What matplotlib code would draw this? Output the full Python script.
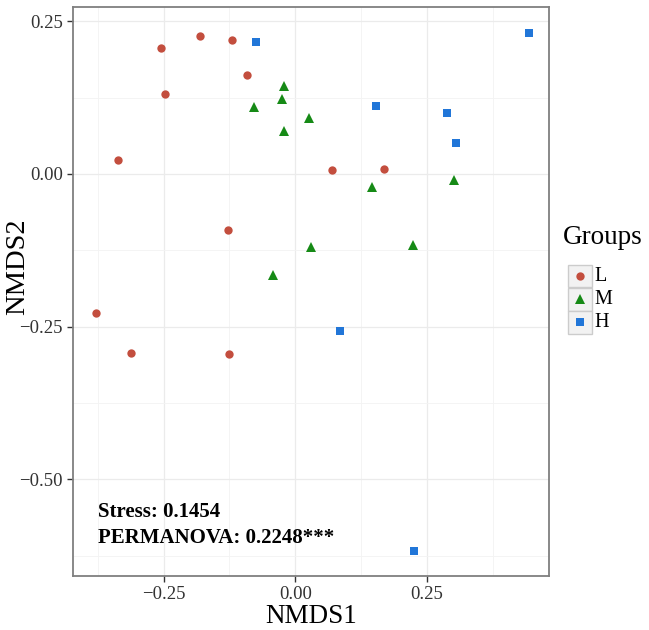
import matplotlib
matplotlib.use("Agg")
import matplotlib.pyplot as plt
from matplotlib.patches import Rectangle
from matplotlib.lines import Line2D
import numpy as np

plt.rcParams['font.family'] = ['Liberation Serif', 'DejaVu Serif']

groups = ["L", "M", "H"]
L_x = [-0.254, -0.181, -0.120, -0.092, -0.248, -0.336, -0.127, 0.070, 0.169, -0.379, -0.312, -0.125]
L_y = [0.207, 0.226, 0.220, 0.162, 0.131, 0.023, -0.091, 0.006, 0.008, -0.228, -0.293, -0.295]
M_x = [-0.022, -0.025, -0.078, -0.022, -0.042, 0.027, 0.146, 0.301, 0.030, 0.224]
M_y = [0.144, 0.122, 0.109, 0.070, -0.165, 0.091, -0.021, -0.010, -0.120, -0.116]
H_x = [-0.075, 0.443, 0.154, 0.289, 0.306, 0.084, 0.225]
H_y = [0.216, 0.230, 0.112, 0.100, 0.050, -0.257, -0.617]

colors = {"L": "#C34E3E", "M": "#168A16", "H": "#2176D8"}
markers = {"L": "o", "M": "^", "H": "s"}
msize = {"L": 6.0, "M": 7.0, "H": 6.0}
data = {"L": (L_x, L_y), "M": (M_x, M_y), "H": (H_x, H_y)}

stress_text = "Stress: 0.1454"
perm_text = "PERMANOVA: 0.2248***"

W, H = 649, 630
fig = plt.figure(figsize=(W / 100, H / 100), dpi=100)
ax = fig.add_axes([72.7 / W, 1 - 576 / H, (549.3 - 72.7) / W, (576 - 7.3) / H])

for g in groups:
    x, y = data[g]
    ax.plot(x, y, linestyle="none", marker=markers[g], markersize=msize[g],
            color=colors[g], markeredgewidth=0, zorder=3)

ax.set_xlim(-0.4226, 0.4823)
ax.set_ylim(-0.658, 0.2728)
ax.set_xticks([-0.25, 0.0, 0.25])
ax.set_yticks([-0.50, -0.25, 0.0, 0.25])
ax.set_xticklabels(["\u22120.25", "0.00", "0.25"])
ax.set_yticklabels(["\u22120.50", "\u22120.25", "0.00", "0.25"])
ax.set_xticks([-0.375, -0.125, 0.125, 0.375], minor=True)
ax.set_yticks([-0.625, -0.375, -0.125, 0.125], minor=True)
ax.grid(True, which="major", color="#EBEBEB", linewidth=0.9, zorder=0)
ax.grid(True, which="minor", color="#F3F3F3", linewidth=0.6, zorder=0)
ax.set_axisbelow(True)
ax.tick_params(which="major", length=4, width=1, color="#333333",
               labelsize=13.5, labelcolor="#333333", pad=3)
ax.tick_params(which="minor", length=0)
for s in ax.spines.values():
    s.set_color("#7F7F7F")
    s.set_linewidth(1.3)

ax.set_xlabel("NMDS1", fontsize=19.5, labelpad=1)
ax.set_ylabel("NMDS2", fontsize=20.5)
ax.yaxis.set_label_coords((30 - 72.7) / 476.6, (576 - 266.5) / 568.7)

ax.text(-0.3746, -0.553, stress_text, fontsize=15, fontweight="bold", va="center", ha="left")
ax.text(-0.3746, -0.596, perm_text, fontsize=15, fontweight="bold", va="center", ha="left")

# legend (ggplot style)
fig.text(563 / W, 1 - 238 / H, "Groups", fontsize=19.5, va="center", ha="left")
row_top = [265, 288, 311]
for i, g in enumerate(groups):
    top = row_top[i]
    fig.patches.append(Rectangle((568 / W, 1 - (top + 22.5) / H), 24 / W, 22.5 / H,
                                 transform=fig.transFigure, facecolor="#F2F2F2",
                                 edgecolor="#CCCCCC", linewidth=1.0))
    cy = 1 - (top + 11.25) / H
    fig.lines.append(Line2D([580 / W], [cy], transform=fig.transFigure, marker=markers[g],
                            markersize=msize[g], color=colors[g], markeredgewidth=0,
                            linestyle="none"))
    fig.text(594 / W, cy, g, fontsize=14.5, va="center", ha="left")

fig.savefig("out.png", dpi=100)
